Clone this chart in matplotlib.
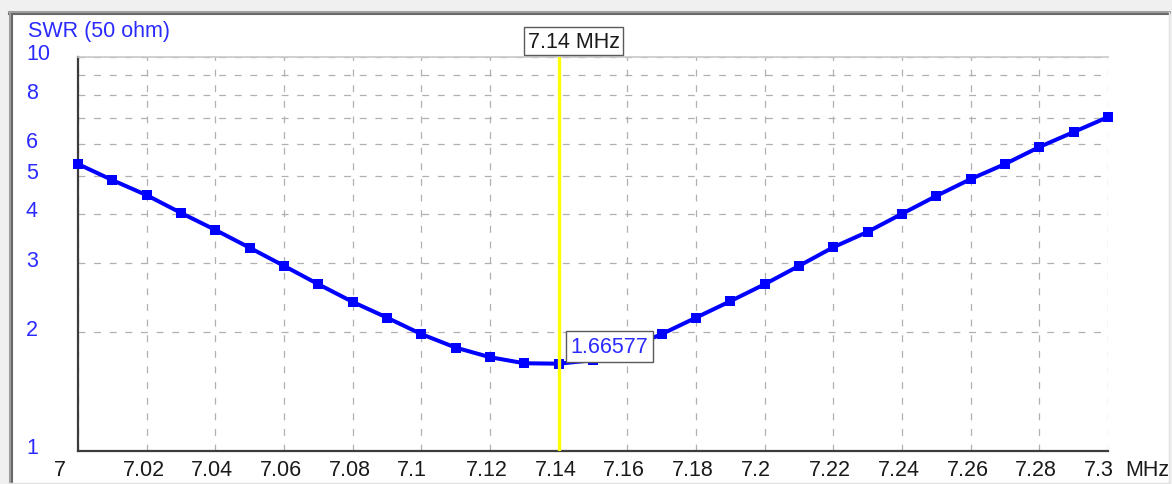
import matplotlib
matplotlib.use("Agg")
import matplotlib.pyplot as plt
import matplotlib.transforms as mtransforms
from matplotlib.patches import Rectangle
from matplotlib.lines import Line2D

# ---- data ----
freq_mhz = [7.00, 7.01, 7.02, 7.03, 7.04, 7.05, 7.06, 7.07, 7.08, 7.09,
            7.10, 7.11, 7.12, 7.13, 7.14, 7.15, 7.16, 7.17, 7.18, 7.19,
            7.20, 7.21, 7.22, 7.23, 7.24, 7.25, 7.26, 7.27, 7.28, 7.29, 7.30]
swr = [5.35, 4.87, 4.46, 4.02, 3.64, 3.28, 2.95, 2.65, 2.39, 2.18,
       1.98, 1.83, 1.73, 1.67, 1.66577, 1.70, 1.82, 1.98, 2.18, 2.40,
       2.65, 2.95, 3.29, 3.60, 4.00, 4.44, 4.90, 5.35, 5.91, 6.45, 7.04]
x_ticks = [7.00, 7.02, 7.04, 7.06, 7.08, 7.10, 7.12, 7.14, 7.16, 7.18,
           7.20, 7.22, 7.24, 7.26, 7.28, 7.30]
x_tick_labels = ["7", "7.02", "7.04", "7.06", "7.08", "7.1", "7.12", "7.14",
                 "7.16", "7.18", "7.2", "7.22", "7.24", "7.26", "7.28", "7.3"]
y_ticks = [1, 2, 3, 4, 5, 6, 7, 8, 9, 10]
y_tick_labels = ["1", "2", "3", "4", "5", "6", "", "8", "", "10"]
marker_freq = 7.14
marker_value = 1.66577
y_title = "SWR (50 ohm)"
x_unit = "MHz"

W, H = 1172, 485
DPI = 100
FONT = "Liberation Sans"
FS = 15.5
BLUE = "#0000ff"
TXT_BLUE = "#2a2aff"

fig = plt.figure(figsize=(W / DPI, H / DPI), dpi=DPI)
fig.patch.set_facecolor("#f0f0f0")

# window panel
def px(x, y):
    return x / W, 1 - y / H

panel = Rectangle(px(9, 484), (1169 - 9) / W, (484 - 12) / H,
                  transform=fig.transFigure, facecolor="white",
                  edgecolor="none", zorder=-3)
fig.patches.append(panel)
# sunken border (top/left dark, right/bottom light)
for (x0, y0, x1, y1, c, lw) in [
        (9, 13, 1169, 13, "#a0a0a0", 2.2),
        (9, 15, 1169, 15, "#696969", 1.5),
        (10, 13, 10, 484, "#a0a0a0", 2.2),
        (12, 15, 12, 484, "#696969", 1.5),
        (1169, 13, 1169, 484, "#e0e0e0", 1.0),
        (9, 484, 1169, 484, "#e0e0e0", 1.0)]:
    a, b = px(x0, y0)
    c2, d = px(x1, y1)
    fig.lines.append(Line2D([a, c2], [b, d], transform=fig.transFigure,
                            color=c, lw=lw, zorder=-2))

left, right, top, bottom = 78, 1108, 58, 452
ax = fig.add_axes([left / W, 1 - bottom / H, (right - left) / W, (bottom - top) / H])
ax.set_facecolor("white")
ax.set_yscale("log")
ax.set_xlim(7.0, 7.3)
ax.set_ylim(1, 10)

ax.set_yticks(y_ticks)
ax.set_yticklabels([])
ax.yaxis.set_minor_locator(matplotlib.ticker.NullLocator())
ax.set_xticks(x_ticks)
ax.set_xticklabels([])
ax.tick_params(axis="both", length=0)

ax.grid(True, which="major", color="#b0b0b0", lw=0.9,
        linestyle=(0, (5.5, 7.0)))
ax.set_axisbelow(True)

ax.spines["right"].set_visible(False)
ax.spines["top"].set_color("#c8c8c8")
ax.spines["top"].set_linewidth(1.2)
for s in ["left", "bottom"]:
    ax.spines[s].set_color("#3c3c3c")
    ax.spines[s].set_linewidth(1.6)

# y tick labels, left-aligned near the panel edge, slightly above grid lines
ytr = mtransforms.blended_transform_factory(ax.transAxes, ax.transData) + \
    mtransforms.ScaledTranslation(-(left - 26) / DPI, 3 / DPI, fig.dpi_scale_trans)
for yv, lab in zip(y_ticks, y_tick_labels):
    if lab:
        ax.text(0, yv, lab, transform=ytr, ha="left", va="center",
                fontsize=FS, family=FONT, color=TXT_BLUE, clip_on=False)

# x tick labels, left-aligned slightly before each tick
xoff = mtransforms.ScaledTranslation(-24 / DPI, -19 / DPI, fig.dpi_scale_trans)
xtr = mtransforms.blended_transform_factory(ax.transData, ax.transAxes) + xoff
for xv, lab in zip(x_ticks, x_tick_labels):
    ax.text(xv, 0, lab, transform=xtr, ha="left", va="center",
            fontsize=FS, family=FONT, color="#1a1a1a", clip_on=False)
ax.text(7.30, 0, x_unit, transform=mtransforms.blended_transform_factory(
    ax.transData, ax.transAxes) + mtransforms.ScaledTranslation(
    17 / DPI, -19 / DPI, fig.dpi_scale_trans),
    ha="left", va="center", fontsize=FS, family=FONT, color="#1a1a1a",
    clip_on=False)

# y title
fig.text(28 / W, 1 - 32 / H, y_title, ha="left", va="center", fontsize=FS,
         family=FONT, color=TXT_BLUE)

# curve
ax.plot(freq_mhz, swr, color=BLUE, lw=2.9, marker="s", markersize=6.5,
        markeredgewidth=0, clip_on=False, zorder=3)

# marker line
ax.axvline(marker_freq, color="#ffff00", lw=2.4, zorder=4)

ax.annotate(f"{marker_freq:.2f} {x_unit}", xy=(marker_freq, 1),
            xycoords=("data", "axes fraction"),
            xytext=(15 * 72 / DPI, 16 * 72 / DPI), textcoords="offset points",
            ha="center", va="center", fontsize=FS, family=FONT,
            color="#1a1a1a", zorder=6, annotation_clip=False,
            bbox=dict(boxstyle="square,pad=0.15", fc="white",
                      ec="#5a5a5a", lw=1.0))

ax.annotate(f"{marker_value:.5f}", xy=(marker_freq, marker_value),
            xycoords="data",
            xytext=(50.5 * 72 / DPI, 17 * 72 / DPI), textcoords="offset points",
            ha="center", va="center", fontsize=FS, family=FONT,
            color=TXT_BLUE, zorder=6,
            bbox=dict(boxstyle="square,pad=0.22", fc="white",
                      ec="#5a5a5a", lw=1.0))

fig.savefig("out.png", dpi=DPI, facecolor=fig.get_facecolor())
